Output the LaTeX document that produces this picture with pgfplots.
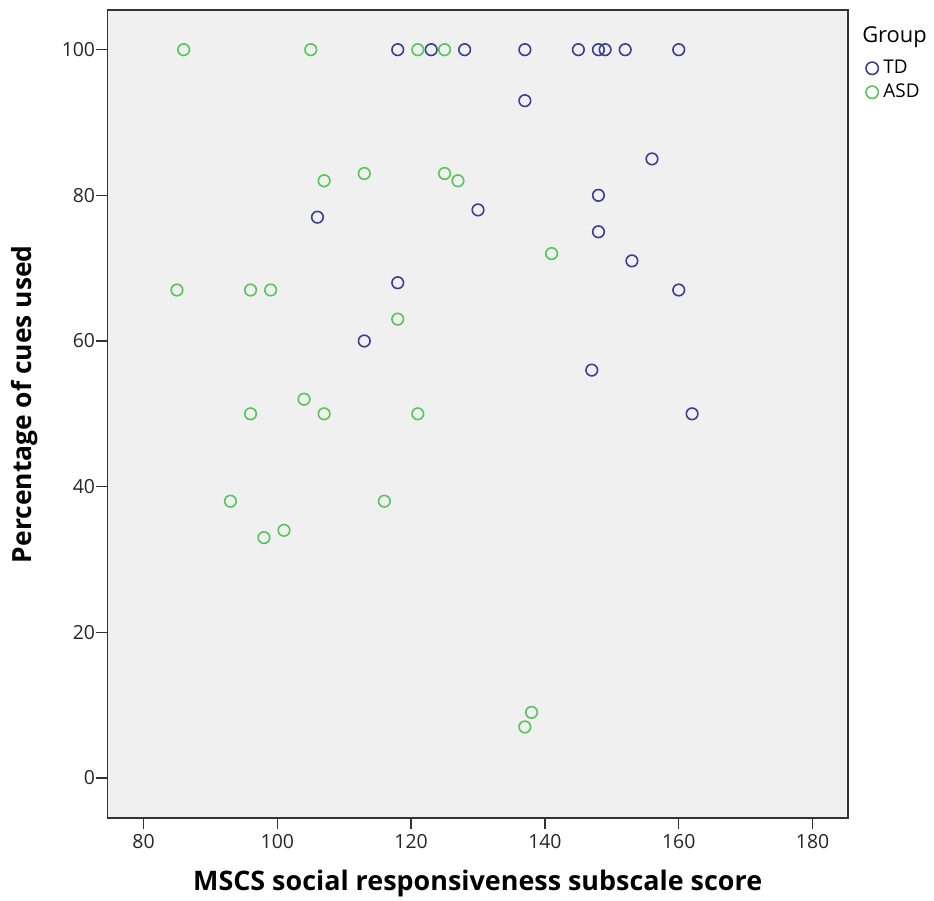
\documentclass[border=0pt]{standalone}
\usepackage{pgfplots}
\pgfplotsset{compat=1.18}
\usepackage{fontspec}
\setmainfont{Open Sans}
\definecolor{tdc}{RGB}{60,62,145}
\definecolor{asdc}{RGB}{86,198,90}
\definecolor{bgc}{RGB}{240,240,240}
\definecolor{axc}{RGB}{50,50,50}
\begin{document}
\begin{tikzpicture}
\useasboundingbox (0bp,0bp) rectangle (934bp,901bp);
\begin{axis}[
  at={(107.3bp,83bp)}, anchor=south west,
  scale only axis, width=740.7bp, height=808bp,
  xmin=74.59, xmax=185.3, ymin=-5.5, ymax=105.45,
  axis background/.style={fill=bgc},
  axis line style={axc, line width=1.4bp},
  xtick={80,100,...,180}, ytick={0,20,...,100},
  tick pos=left, tick align=outside,
  major tick length=11bp,
  tick style={axc, line width=1.4bp},
  /pgf/number format/assume math mode=true,
  ticklabel style={font=\fontsize{19.5}{22}\selectfont, text=black!85, inner sep=1bp},
  xticklabel style={yshift=-4bp},
  clip=false,
  xlabel={MSCS social responsiveness subscale score},
  ylabel={Percentage of cues used},
  xlabel style={font=\bfseries\fontsize{27}{30}\selectfont, at={(axis description cs:0.5,-0.0805)}, anchor=center},
  ylabel style={font=\bfseries\fontsize{26.5}{30}\selectfont, at={(axis description cs:-0.112,0.512)}, anchor=center},
  legend style={at={(axis description cs:1.024,0.913)}, anchor=west, draw=none, fill=none,
    font=\fontsize{19}{22}\selectfont, inner sep=0pt, row sep=6bp,
    nodes={inner sep=0bp, text height=14bp, text depth=4bp}},
  legend cell align=left,
  legend image code/.code={\draw[#1, mark size=6.2bp] plot coordinates {(0bp,0bp)};},
]
\addplot[only marks, mark=o, mark size=5.8bp, mark options={line width=1.6bp, draw=tdc}] coordinates {
(118,100) (123,100) (128,100) (137,100) (145,100) (148,100) (149,100) (152,100) (160,100)
(137,93) (156,85) (148,80) (130,78) (106,77) (148,75) (153,71) (118,68) (160,67)
(113,60) (147,56) (162,50)
};
\addlegendentry{\hspace{5bp}TD}
\addplot[only marks, mark=o, mark size=5.8bp, mark options={line width=1.6bp, draw=asdc}] coordinates {
(86,100) (105,100) (121,100) (125,100) (107,82) (113,83) (125,83) (127,82)
(141,72) (85,67) (96,67) (99,67) (118,63) (104,52) (96,50) (107,50) (121,50)
(93,38) (116,38) (101,34) (98,33) (138,9) (137,7)
};
\addlegendentry{\hspace{5bp}ASD}
\node[anchor=base west, font=\fontsize{22}{26}\selectfont, inner sep=0pt] at (axis description cs:1.019,0.960) {Group};
\end{axis}
\end{tikzpicture}
\end{document}
